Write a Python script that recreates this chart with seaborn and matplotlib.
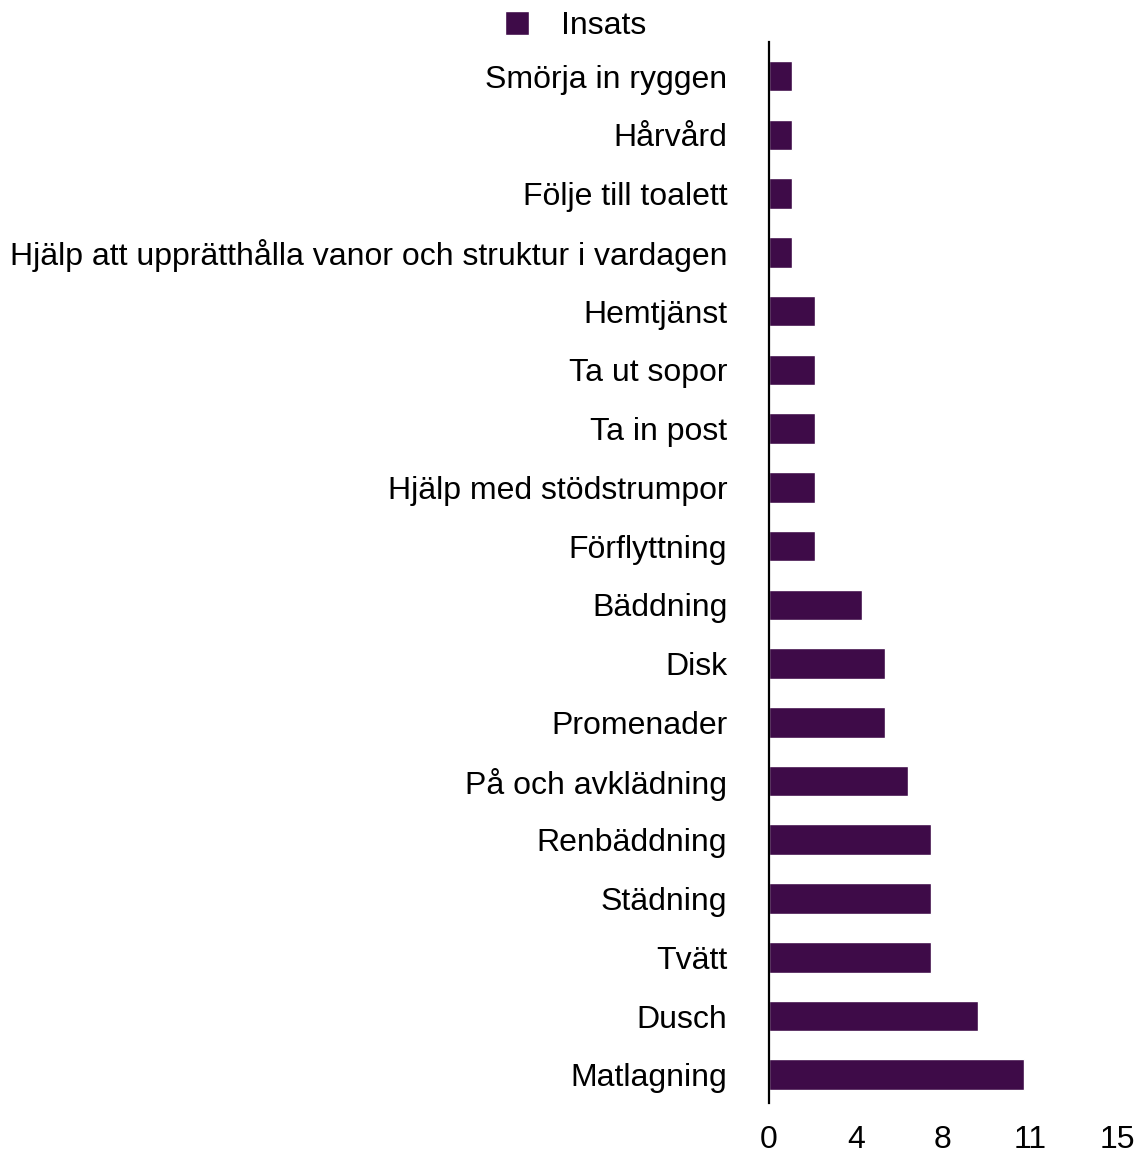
import matplotlib
matplotlib.use("Agg")
import matplotlib.pyplot as plt
import seaborn as sns
import pandas as pd

categories = [
    "Smörja in ryggen",
    "Hårvård",
    "Följe till toalett",
    "Hjälp att upprätthålla vanor och struktur i vardagen",
    "Hemtjänst",
    "Ta ut sopor",
    "Ta in post",
    "Hjälp med stödstrumpor",
    "Förflyttning",
    "Bäddning",
    "Disk",
    "Promenader",
    "På och avklädning",
    "Renbäddning",
    "Städning",
    "Tvätt",
    "Dusch",
    "Matlagning",
]
values = [1, 1, 1, 1, 2, 2, 2, 2, 2, 4, 5, 5, 6, 7, 7, 7, 9, 11]
tick_values = [0, 3.75, 7.5, 11.25, 15]
tick_labels = ["0", "4", "8", "11", "15"]

df = pd.DataFrame({"insats": categories, "antal": values})

sns.set_style("white")
plt.rcParams["font.family"] = ["Liberation Sans", "DejaVu Sans"]
plt.rcParams["text.color"] = "black"

fig = plt.figure(figsize=(11.45, 11.53), dpi=100)
ax = fig.add_axes([0.6716, 0.0434, 0.3039, 0.9202])

sns.barplot(data=df, y="insats", x="antal", orient="h", color="#3e0b48",
            width=0.52, saturation=1, label="Insats", ax=ax)

ax.set_xlim(0, 15)
ax.set_ylim(17.48, -0.58)
ax.set_xticks(tick_values)
ax.set_xticklabels(tick_labels)
ax.set_xlabel("")
ax.set_ylabel("")
ax.tick_params(axis="both", length=0, labelsize=23, colors="black")
ax.tick_params(axis="y", pad=30)
ax.tick_params(axis="x", pad=16)
for side in ["top", "right", "bottom"]:
    ax.spines[side].set_visible(False)
ax.spines["left"].set_color("black")
ax.spines["left"].set_linewidth(1.6)

ax.legend(loc="center", bbox_to_anchor=(576 / 1145, 1 - 26 / 1153),
          bbox_transform=fig.transFigure, frameon=False, fontsize=23,
          handlelength=0.75, handleheight=0.75, handletextpad=1.0,
          labelcolor="black")

fig.savefig("out.png", dpi=100)
